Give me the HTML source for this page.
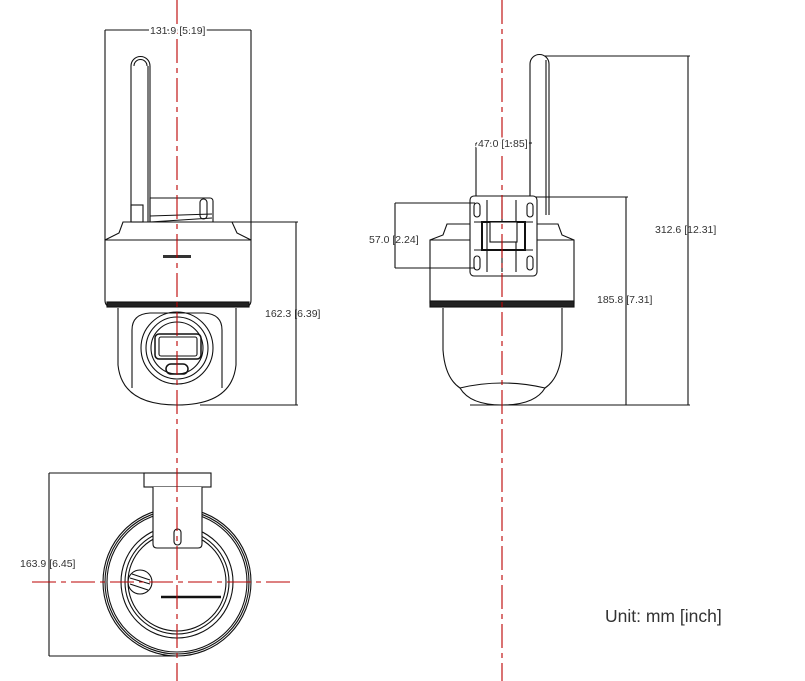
<!DOCTYPE html>
<html><head><meta charset="utf-8"><style>html,body{margin:0;padding:0;background:#fff}svg{display:block}text{font-family:"Liberation Sans",sans-serif;fill:#333}</style></head><body>
<svg width="805" height="681" viewBox="0 0 805 681" xmlns="http://www.w3.org/2000/svg">
<g fill="none" stroke="#111" stroke-width="1.1">
<!-- FRONT VIEW -->
<line x1="105" y1="30" x2="251" y2="30"/>
<line x1="105" y1="30" x2="105" y2="240"/>
<line x1="251" y1="30" x2="251" y2="240"/>
<path d="M131 222 V66 a9 9 0 0 1 19 0 V222"/>
<path d="M134 66 a6 6 0 0 1 13 0"/>
<rect x="131" y="205" width="12" height="17"/>
<line x1="148" y1="66" x2="148" y2="222"/>
<path d="M150 222 V198 H210 a3 3 0 0 1 3 3 V222"/>
<rect x="200" y="199" width="7" height="20" rx="3.5"/>
<path d="M150 216 L212 214 M150 222 L212 218"/>
<path d="M123 222 H232 L237 233 L251 240 H105 L119 233 Z"/>
<path d="M105 240 H251 V300 Q251 307 244 307 H112 Q105 307 105 300 Z"/>
<rect x="107" y="302" width="142" height="5" fill="#222"/>
<path d="M118 308 V365 Q122 405 177 405 Q232 405 236 365 V308"/>
<path d="M132 388 V330 Q132 314 150 313 H204 Q222 314 222 330 V388"/>
<circle cx="177" cy="348" r="36"/>
<circle cx="177" cy="348" r="31"/>
<circle cx="177" cy="348" r="26"/>
<rect x="155" y="334" width="46" height="25" rx="4" stroke-width="1.5"/>
<rect x="159" y="337" width="38" height="19" rx="2"/>
<rect x="166" y="364" width="22" height="10" rx="5" stroke-width="1.5"/>
<rect x="163" y="255" width="28" height="3" fill="#333" stroke="none"/>
<line x1="232" y1="222" x2="298" y2="222"/>
<line x1="200" y1="405" x2="298" y2="405"/>
<line x1="296" y1="222" x2="296" y2="405"/>
<!-- SIDE VIEW -->
<path d="M530 215 V64 a9 9 0 0 1 19 0 V215"/>
<line x1="546" y1="60" x2="546" y2="215"/>
<line x1="545" y1="56" x2="690" y2="56"/>
<line x1="688" y1="56" x2="688" y2="405"/>
<line x1="530" y1="197" x2="628" y2="197"/>
<line x1="626" y1="197" x2="626" y2="405"/>
<line x1="470" y1="405" x2="690" y2="405"/>
<path d="M447 224 H558 L562 235 L574 240 H430 L443 235 Z"/>
<path d="M430 240 H574 V303 H430 Z"/>
<rect x="430" y="301" width="144" height="6" fill="#222"/>
<path d="M443 308 V350 Q445 378 460 388 Q502 378 545 388 Q560 378 562 350 V308"/>
<path d="M460 388 Q470 405 502 405 Q535 405 545 388"/>
<rect x="470" y="196" width="67" height="80" rx="4" fill="#fff"/>
<rect x="474" y="203" width="6" height="14" rx="3"/>
<rect x="527" y="203" width="6" height="14" rx="3"/>
<rect x="474" y="256" width="6" height="14" rx="3"/>
<rect x="527" y="256" width="6" height="14" rx="3"/>
<path d="M487 200 V272 M502 200 V272 M516 200 V272 M474 222 H533 M474 250 H533"/>
<rect x="482" y="222" width="43" height="28" stroke-width="2"/>
<rect x="490" y="222" width="27" height="20" fill="#fff"/>
<line x1="476" y1="143" x2="532" y2="143"/>
<line x1="476" y1="143" x2="476" y2="196"/>
<line x1="530" y1="143" x2="530" y2="196"/>
<line x1="395" y1="203" x2="475" y2="203"/>
<line x1="395" y1="268" x2="475" y2="268"/>
<line x1="395" y1="203" x2="395" y2="268"/>
<!-- BOTTOM VIEW -->
<circle cx="177" cy="582" r="74"/>
<circle cx="177" cy="582" r="72"/>
<circle cx="177" cy="582" r="70"/>
<circle cx="177" cy="582" r="56"/>
<circle cx="177" cy="582" r="52"/>
<circle cx="177" cy="582" r="49"/>
<rect x="144" y="473" width="67" height="14" fill="#fff"/>
<path d="M153 487 V544 Q153 548 157 548 H198 Q202 548 202 544 V487" fill="#fff"/>
<rect x="174" y="529" width="7" height="16" rx="3.5"/>
<circle cx="140" cy="582" r="12"/>
<path d="M130 578 L150 584 M130 584 L148 590 M132 574 L150 580"/>
<line x1="161" y1="597" x2="221" y2="597" stroke-width="2.5"/>
<line x1="49" y1="473" x2="144" y2="473"/>
<line x1="49" y1="656" x2="177" y2="656"/>
<line x1="49" y1="473" x2="49" y2="656"/>
</g>
<g stroke="#b00" stroke-width="1.1" stroke-dasharray="24 5 5 5" fill="none">
<line x1="177" y1="0" x2="177" y2="681"/>
<line x1="502" y1="0" x2="502" y2="681"/>
<line x1="32" y1="582" x2="292" y2="582"/>
</g>
<g font-size="10.5">
<text x="150" y="34" style="paint-order:stroke" stroke="#fff" stroke-width="4">131.9 [5.19]</text>
<text x="265" y="317">162.3 [6.39]</text>
<text x="655" y="233">312.6 [12.31]</text>
<text x="597" y="303">185.8 [7.31]</text>
<text x="478" y="147" style="paint-order:stroke" stroke="#fff" stroke-width="4">47.0 [1.85]</text>
<text x="369" y="243">57.0 [2.24]</text>
<text x="20" y="567">163.9 [6.45]</text>
</g>
<text x="605" y="622" font-size="17.5">Unit: mm [inch]</text>
</svg>
</body></html>
